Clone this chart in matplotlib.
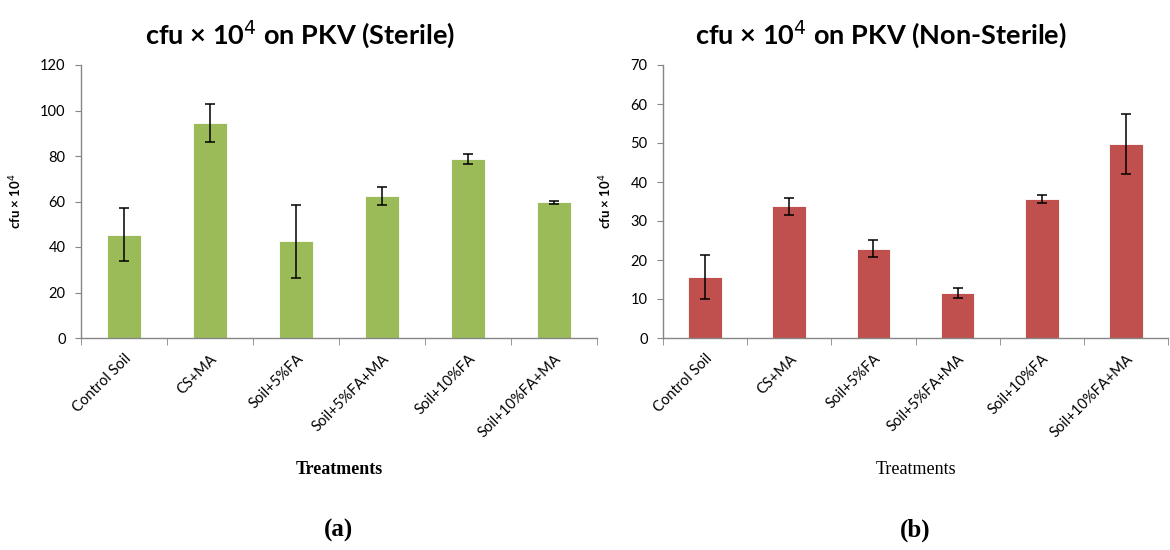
import matplotlib
matplotlib.use("Agg")
import matplotlib.pyplot as plt

treatments = ["Control Soil", "CS+MA", "Soil+5%FA", "Soil+5%FA+MA", "Soil+10%FA", "Soil+10%FA+MA"]

sterile_mean = [45.4, 94.4, 42.5, 62.4, 78.8, 59.6]
sterile_err = [11.6, 8.3, 16.0, 4.1, 2.2, 0.8]

nonsterile_mean = [15.6, 33.8, 22.9, 11.6, 35.7, 49.8]
nonsterile_err = [5.6, 2.2, 2.2, 1.3, 1.0, 7.7]

GREEN = "#9BBB59"
RED = "#C0504D"
AXIS_GREY = "#868686"

plt.rcParams["font.family"] = ["Lato", "DejaVu Sans"]

fig = plt.figure(figsize=(11.7, 5.5), dpi=100)


def panel(rect, means, errs, color, ymax, step, title, title_x, width, xlab_bold, letter):
    ax = fig.add_axes(rect)
    x = list(range(len(means)))
    ax.bar(x, means, width=width, color=color, edgecolor="white", linewidth=0.6, zorder=2)
    ax.errorbar(x, means, yerr=errs, fmt="none", ecolor="black", elinewidth=1.1,
                capsize=3.5, capthick=1.1, zorder=3)
    ax.set_xlim(-0.5, len(means) - 0.5)
    ax.set_ylim(0, ymax)
    ax.set_yticks(range(0, ymax + 1, step))
    ax.tick_params(axis="y", labelsize=10.5, length=4, color=AXIS_GREY, pad=7)
    # category labels at the bar centres, tick marks on the boundaries
    ax.set_xticks(x)
    ax.set_xticklabels(treatments, rotation=45, ha="right", rotation_mode="anchor", fontsize=10.5)
    ax.tick_params(axis="x", which="major", length=0, pad=10)
    ax.set_xticks([i - 0.5 for i in range(len(means) + 1)], minor=True)
    ax.tick_params(axis="x", which="minor", length=5, color=AXIS_GREY)
    for side in ("top", "right"):
        ax.spines[side].set_visible(False)
    for side in ("left", "bottom"):
        ax.spines[side].set_color(AXIS_GREY)
        ax.spines[side].set_linewidth(1.0)
    ax.set_ylabel("cfu × 10$^4$", fontsize=9.5, fontweight="bold", labelpad=12)
    # chart title sits over the whole chart area, a bit left of the plot centre
    ax.set_title(title, fontsize=19.5, fontweight="bold", pad=15, x=title_x)
    ax.set_xlabel("Treatments", fontsize=13, family="Liberation Serif",
                  fontweight="bold" if xlab_bold else "normal", labelpad=15)
    cx = rect[0] + rect[2] / 2
    fig.text(cx, 0.035, letter, ha="center", va="center", fontsize=18,
             fontweight="bold", family="Liberation Serif")
    return ax


panel([81 / 1170, 212 / 550, 516 / 1170, 273 / 550], sterile_mean, sterile_err, GREEN,
      120, 20, "cfu × 10$^4$ on PKV (Sterile)", 0.425, 0.385, True, "(a)")
panel([663 / 1170, 212 / 550, 505 / 1170, 273 / 550], nonsterile_mean, nonsterile_err, RED,
      70, 10, "cfu × 10$^4$ on PKV (Non-Sterile)", 0.432, 0.4, False, "(b)")

fig.savefig("out.png", dpi=100)
